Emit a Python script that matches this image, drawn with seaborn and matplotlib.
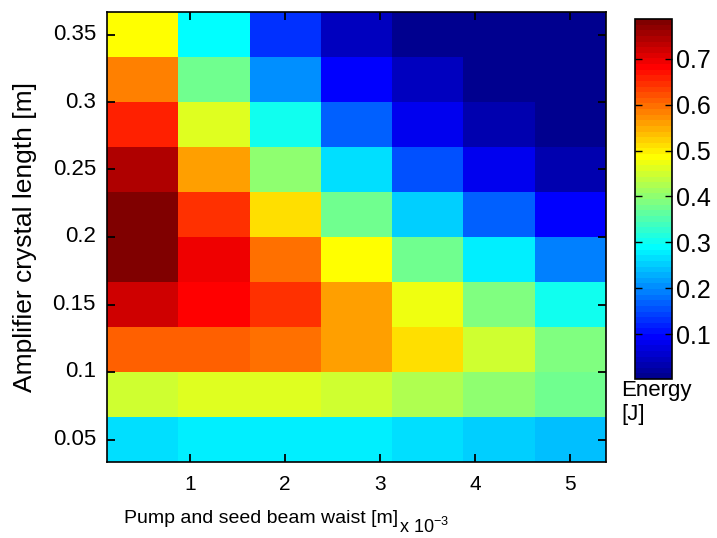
import numpy as np
import pandas as pd
import matplotlib
matplotlib.use("Agg")
import matplotlib.pyplot as plt
from matplotlib.colors import ListedColormap
import seaborn as sns

# ---- data ----
waist_mm = [0.5, 1.25, 2.0, 2.75, 3.5, 4.25, 5.0]          # x 10^-3 m
crystal_len = [0.05, 0.0833, 0.1167, 0.15, 0.1833, 0.2167, 0.25, 0.2833, 0.3167, 0.35]  # m
x_ticks = [1, 2, 3, 4, 5]
y_ticks = [0.05, 0.1, 0.15, 0.2, 0.25, 0.3, 0.35]
y_tick_labels = ["0.05", "0.1", "0.15", "0.2", "0.25", "0.3", "0.35"]
cbar_ticks = [0.1, 0.2, 0.3, 0.4, 0.5, 0.6, 0.7]

# energy rows, bottom (0.05) to top (0.35)
e_005 = [0.271, 0.282, 0.282, 0.282, 0.271, 0.258, 0.245]
e_008 = [0.454, 0.467, 0.467, 0.454, 0.430, 0.405, 0.381]
e_012 = [0.613, 0.613, 0.600, 0.564, 0.514, 0.454, 0.393]
e_015 = [0.723, 0.687, 0.650, 0.564, 0.479, 0.393, 0.306]
e_018 = [0.785, 0.699, 0.600, 0.491, 0.381, 0.282, 0.196]
e_022 = [0.787, 0.650, 0.514, 0.381, 0.258, 0.172, 0.098]
e_025 = [0.748, 0.564, 0.405, 0.271, 0.159, 0.080, 0.031]
e_028 = [0.662, 0.467, 0.306, 0.172, 0.086, 0.029, 0.004]
e_032 = [0.579, 0.381, 0.209, 0.098, 0.041, 0.006, 0.003]
e_035 = [0.491, 0.294, 0.135, 0.045, 0.007, 0.005, 0.002]

energy = np.array([e_005, e_008, e_012, e_015, e_018, e_022, e_025, e_028, e_032, e_035])

# ---- MATLAB-style jet(64) colormap ----
def matlab_jet(m=64):
    n = int(np.ceil(m / 4))
    u = np.concatenate([np.arange(1, n + 1) / n, np.ones(n - 1), np.arange(n, 0, -1) / n])
    g = int(np.ceil(n / 2)) - (1 if m % 4 == 1 else 0) + np.arange(1, len(u) + 1)
    r = g + n
    b = g - n
    R = np.zeros(m); G = np.zeros(m); B = np.zeros(m)
    R[r[r <= m] - 1] = u[r <= m]
    G[g[g <= m] - 1] = u[g <= m]
    B[b[b >= 1] - 1] = u[b >= 1]
    return ListedColormap(np.column_stack([R, G, B]))

cmap = matlab_jet(64)

sns.set_theme(style="ticks", rc={"text.color": "black", "axes.labelcolor": "black",
                                 "xtick.color": "black", "ytick.color": "black",
                                 "axes.edgecolor": "black", "axes.axisbelow": False})
plt.rcParams["font.family"] = ["Liberation Sans", "DejaVu Sans"]
plt.rcParams["mathtext.fontset"] = "custom"
plt.rcParams["mathtext.rm"] = "Liberation Sans"
plt.rcParams["mathtext.it"] = "Liberation Sans:italic"
plt.rcParams["mathtext.bf"] = "Liberation Sans:bold"

df = pd.DataFrame(energy[::-1], index=crystal_len[::-1], columns=waist_mm)

W, H = 717, 538
fig = plt.figure(figsize=(W / 100, H / 100), dpi=100)
ax = fig.add_axes([107 / W, (H - 462) / H, (606 - 107) / W, (462 - 12) / H])
cax = fig.add_axes([635 / W, (H - 379) / H, 37 / W, 360 / H])

sns.heatmap(df, cmap=cmap, ax=ax, cbar_ax=cax, cbar=True)
ax.set_axisbelow(False)

# map numeric values to heatmap cell positions
x0, dx = waist_mm[0], waist_mm[1] - waist_mm[0]
ytop, dy = crystal_len[-1], (crystal_len[-1] - crystal_len[0]) / (len(crystal_len) - 1)
ax.set_xticks([0.5 + (t - x0) / dx for t in x_ticks])
ax.set_xticklabels([str(t) for t in x_ticks], rotation=0)
ax.set_yticks([0.5 + (ytop - t) / dy for t in y_ticks])
ax.set_yticklabels(y_tick_labels, rotation=0)

ax.tick_params(axis="both", which="major", direction="in", length=6, width=1.3,
               color="black", top=True, right=True, bottom=True, left=True)
ax.tick_params(axis="x", labelsize=15, pad=9)
ax.tick_params(axis="y", labelsize=16, pad=8)
ax.xaxis.set_zorder(6)
ax.yaxis.set_zorder(6)
for s in ax.spines.values():
    s.set_visible(True)
    s.set_color("black")
    s.set_linewidth(1.2)
    s.set_zorder(5)

ax.set_ylabel("Amplifier crystal length [m]", fontsize=19)
ax.yaxis.set_label_coords(-(107 - 25) / 499, 0.5)
ax.yaxis.label.set_va("center")

ax.set_xlabel("Pump and seed beam waist [m]", fontsize=14)
ax.xaxis.set_label_coords((124 - 107) / 499, -(523 - 462) / 450)
ax.xaxis.label.set_ha("left")
ax.xaxis.label.set_va("baseline")

fig.canvas.draw()
lbl_bb = ax.xaxis.label.get_window_extent()
ax_bb = ax.get_window_extent()
exp_x = (lbl_bb.x1 + 1 - ax_bb.x0) / ax_bb.width
ax.text(exp_x, -(533 - 462) / 450, r"x 10$^{-3}$", transform=ax.transAxes,
        fontsize=13, ha="left", va="baseline")

cbar = ax.collections[0].colorbar
cbar.set_ticks(cbar_ticks)
cbar.set_ticklabels([f"{t:.1f}" for t in cbar_ticks])
cax.tick_params(direction="in", length=5, width=1, labelsize=18, left=True, right=True,
                labelleft=False, labelright=True, pad=3)
cbar.outline.set_visible(True)
cbar.outline.set_edgecolor("black")
cbar.outline.set_linewidth(1.2)

fig.text(621 / W, 1 - 380 / H, "Energy\n[J]", fontsize=16, ha="left", va="top",
         linespacing=1.2)

fig.savefig("out.png", dpi=100)
